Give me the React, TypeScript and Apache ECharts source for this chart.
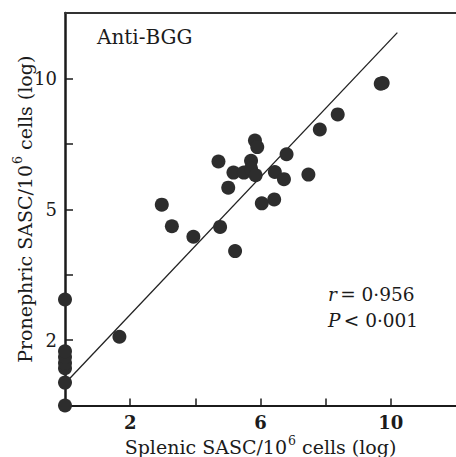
import React, { useEffect, useRef } from "react";
import * as echarts from "echarts";

// Splenic SASC (x, linear in label units) and pronephric SASC (y, in tick units: tick 1 = "2", 3 = "5", 5 = "10")
const splenic = [0, 0, 0, 0, 0, 0, 0, 1.67, 3.28, 2.97, 3.94, 4.76, 5.22, 5.01, 4.71, 5.17, 5.49, 5.71, 5.71, 5.85, 5.83, 5.9, 6.04, 6.42, 6.44, 6.72, 6.8, 7.47, 7.82, 8.37, 9.75, 9.69];
const pronephric = [0, 0.35, 0.57, 0.65, 0.74, 0.83, 1.62, 1.05, 2.74, 3.07, 2.58, 2.73, 2.36, 3.33, 3.73, 3.56, 3.56, 3.74, 3.62, 3.52, 4.05, 3.95, 3.09, 3.15, 3.57, 3.46, 3.84, 3.53, 4.22, 4.45, 4.93, 4.92];
const fitX = [0.1, 10.2];
const fitY = [0.39, 5.7];
const xTicks = [2, 4, 6, 8, 10];
const xTickLabels = [2, 6, 10];
const yTicks = [1, 2, 3, 4, 5];
const yTickPos = [1, 3, 5];
const yTickText = ["2", "5", "10"];
const title = "Anti-BGG";
const statR = "0·956";
const statP = "0·001";

const FONT = "DejaVu Serif";
const INK = "#1b1b1b";

export default function App() {
  const ref = useRef<HTMLDivElement>(null);
  useEffect(() => {
    if (!ref.current) return;
    const chart = echarts.init(ref.current, null, { renderer: "svg" });
    const nameRich = {
      n: { fontSize: 19, fontFamily: FONT, color: INK, lineHeight: 23, verticalAlign: "bottom" },
      s: { fontSize: 12.5, fontFamily: FONT, color: INK, lineHeight: 23, verticalAlign: "top", padding: [0, 0, 0, 1] },
    };
    chart.setOption({
      animation: false,
      backgroundColor: "#ffffff",
      grid: { left: 65, right: 0, top: 13, bottom: 51.5, containLabel: false, outerBoundsMode: "none" },
      xAxis: [
        {
          type: "value",
          min: 0,
          max: 12,
          interval: 2,
          position: "bottom",
          name: "{n|Splenic SASC/10}{s|6}{n| cells (log)}",
          nameLocation: "middle",
          nameGap: 28,
          nameMoveOverlap: false,
          nameTextStyle: { rich: nameRich },
          axisLine: { show: true, lineStyle: { color: INK, width: 2 } },
          axisTick: { show: true, inside: true, length: 7, customValues: xTicks, lineStyle: { color: INK, width: 1.5 } },
          axisLabel: {
            customValues: xTickLabels,
            fontFamily: FONT,
            fontSize: 18,
            fontWeight: "bold",
            color: INK,
            margin: 8,
          },
          splitLine: { show: false },
        },
        {
          type: "value",
          min: 0,
          max: 12,
          position: "top",
          axisLine: { show: true, lineStyle: { color: "#333", width: 2 } },
          axisTick: { show: false },
          axisLabel: { show: false },
          splitLine: { show: false },
        },
      ],
      yAxis: {
        type: "value",
        min: 0,
        max: 6,
        interval: 1,
        name: "{n|Pronephric SASC/10}{s|6}{n| cells (log)}",
        nameLocation: "middle",
        nameGap: 31,
        nameMoveOverlap: false,
        nameRotate: 90,
        nameTextStyle: { rich: nameRich },
        axisLine: { show: true, lineStyle: { color: INK, width: 2.5 } },
        axisTick: { show: true, inside: true, length: 8, customValues: yTicks, lineStyle: { color: INK, width: 1.5 } },
        axisLabel: {
          customValues: yTickPos,
          formatter: (v: number) => {
            const i = yTickPos.indexOf(v);
            return i >= 0 ? yTickText[i] : "";
          },
          fontFamily: FONT,
          fontSize: 18,
          color: INK,
          margin: 8,
        },
        splitLine: { show: false },
      },
      graphic: [
        {
          type: "text",
          left: 97,
          top: 27,
          style: { text: title, font: `20px '${FONT}'`, fill: INK },
        },
        {
          type: "text",
          left: 328,
          top: 285,
          style: {
            text: `{i|r} {n|= ${statR}}\n{i|P} {n|< ${statP}}`,
            rich: {
              i: { fontFamily: FONT, fontSize: 18.5, fontStyle: "italic", fill: INK, lineHeight: 26 },
              n: { fontFamily: FONT, fontSize: 18.5, fill: INK, lineHeight: 26 },
            },
          },
        },
      ],
      series: [
        {
          type: "line",
          data: fitX.map((x, i) => [x, fitY[i]]),
          symbol: "none",
          lineStyle: { color: "#222", width: 1.3 },
          z: 1,
        },
        {
          type: "scatter",
          data: splenic.map((x, i) => [x, pronephric[i]]),
          symbolSize: 14,
          itemStyle: { color: "#2d2d2d", opacity: 1 },
          clip: false,
          z: 3,
        },
      ],
    });
    return () => chart.dispose();
  }, []);
  return <div ref={ref} style={{ width: 456, height: 457, position: "absolute", left: 0, top: 0 }} />;
}
